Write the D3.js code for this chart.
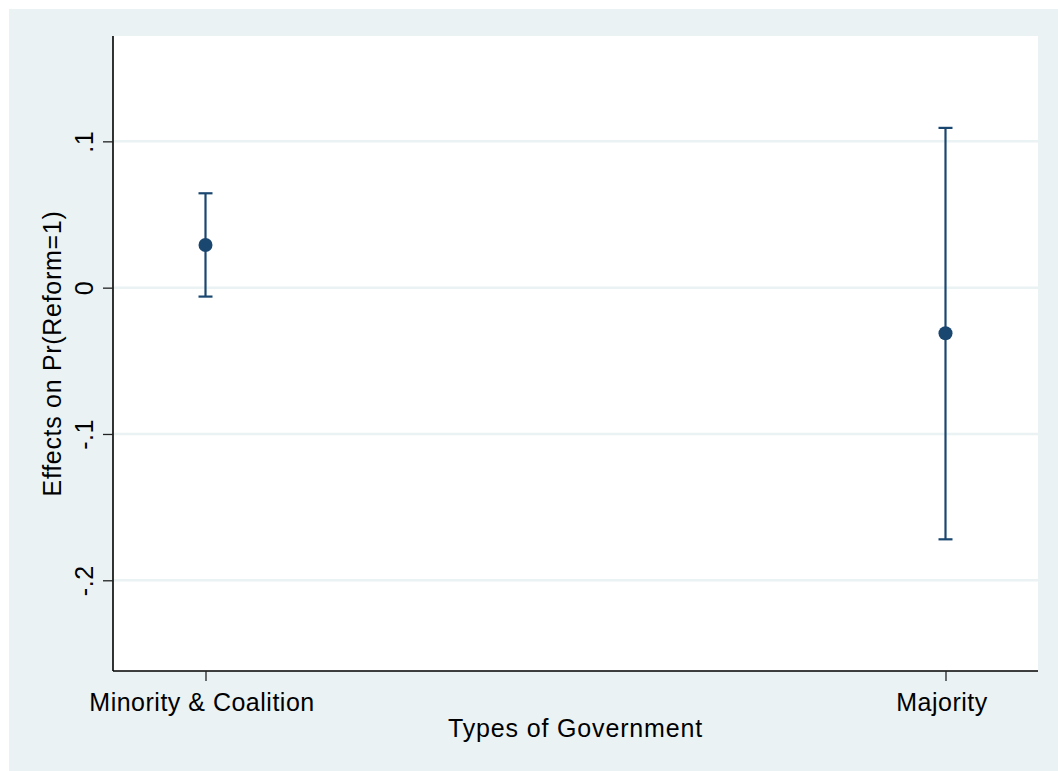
<!DOCTYPE html>
<html>
<head>
<meta charset="utf-8">
<script src="https://cdn.jsdelivr.net/npm/d3@7"></script>
<style>
  html, body { margin: 0; padding: 0; background: #ffffff; }
  svg { display: block; }
  text { font-family: "Liberation Sans", Arial, Helvetica, sans-serif; fill: #000; }
</style>
</head>
<body>
<svg id="chart" width="1058" height="771"></svg>
<script>
// ---- data ----
const categories = ["Minority & Coalition", "Majority"];
const categoryPos = [1, 2];
const estimates = [0.0292, -0.0312];
const ciLower = [-0.0061, -0.1720];
const ciUpper = [0.0645, 0.1092];
const yTicks = [0.1, 0, -0.1, -0.2];
const yTickLabels = [".1", "0", "-.1", "-.2"];
const xTitle = "Types of Government";
const yTitle = "Effects on Pr(Reform=1)";

// ---- layout ----
const W = 1058, H = 771;
const plot = { left: 113, right: 1038, top: 36, bottom: 671 };
const navy = "#1a476f";
const bgCol = "#eaf2f3";

const svg = d3.select("#chart");

// outer background
svg.append("rect").attr("x", 9).attr("y", 9).attr("width", W - 9).attr("height", H - 9).attr("fill", bgCol);
// plot region
svg.append("rect").attr("x", plot.left).attr("y", plot.top)
  .attr("width", plot.right - plot.left).attr("height", plot.bottom - plot.top).attr("fill", "#ffffff");

const x = d3.scaleLinear().domain([0.875, 2.125]).range([plot.left, plot.right]);
const y = d3.scaleLinear().domain([-0.262, 0.172]).range([plot.bottom, plot.top]);

// gridlines
svg.append("g").selectAll("line").data(yTicks).join("line")
  .attr("x1", plot.left).attr("x2", plot.right)
  .attr("y1", d => y(d)).attr("y2", d => y(d))
  .attr("stroke", bgCol).attr("stroke-width", 2.5);

// y axis
const yAxis = d3.axisLeft(y).tickValues(yTicks)
  .tickFormat((d, i) => yTickLabels[i]).tickSize(10).tickSizeOuter(0);
const gy = svg.append("g").attr("transform", `translate(${plot.left},0)`).call(yAxis);
gy.select(".domain").attr("stroke", "#000").attr("stroke-width", 1.6)
  .attr("d", `M0,${plot.top}V${plot.bottom}`);
gy.selectAll(".tick line").attr("stroke", "#222").attr("stroke-width", 1.3);
gy.selectAll(".tick text")
  .attr("x", null).attr("dy", null)
  .attr("transform", `translate(${93 - plot.left},0) rotate(-90)`)
  .attr("text-anchor", "middle")
  .style("font-size", "25px").style("letter-spacing", "0.5px")
  .style("font-family", '"Liberation Sans", Arial, sans-serif').attr("fill", "#000");

// x axis
const xAxis = d3.axisBottom(x).tickValues(categoryPos)
  .tickFormat((d, i) => categories[i]).tickSize(10).tickSizeOuter(0);
const gx = svg.append("g").attr("transform", `translate(0,${plot.bottom})`).call(xAxis);
gx.select(".domain").attr("stroke", "#000").attr("stroke-width", 1.6)
  .attr("d", `M${plot.left},0H${plot.right}`);
gx.selectAll(".tick line").attr("stroke", "#222").attr("stroke-width", 1.3);
gx.selectAll(".tick text")
  .attr("y", 711 - plot.bottom).attr("dy", null).attr("dx", -4)
  .style("font-size", "25px").style("letter-spacing", "0.5px")
  .style("font-family", '"Liberation Sans", Arial, sans-serif').attr("fill", "#000");

// axis titles
svg.append("text").attr("x", (plot.left + plot.right) / 2).attr("y", 737)
  .attr("text-anchor", "middle").style("font-size", "25px").style("letter-spacing", "0.85px")
  .text(xTitle);
svg.append("text")
  .attr("transform", `translate(61,${(plot.top + plot.bottom) / 2}) rotate(-90)`)
  .attr("text-anchor", "middle").style("font-size", "25px").style("letter-spacing", "0.7px")
  .text(yTitle);

// error bars
const idx = d3.range(categories.length);
const capHalf = 7;
const g = svg.append("g");
g.selectAll("line.ci").data(idx).join("line").attr("class", "ci")
  .attr("x1", i => x(categoryPos[i])).attr("x2", i => x(categoryPos[i]))
  .attr("y1", i => y(ciLower[i])).attr("y2", i => y(ciUpper[i]))
  .attr("stroke", navy).attr("stroke-width", 2.2);
g.selectAll("line.capTop").data(idx).join("line").attr("class", "capTop")
  .attr("x1", i => x(categoryPos[i]) - capHalf).attr("x2", i => x(categoryPos[i]) + capHalf)
  .attr("y1", i => y(ciUpper[i])).attr("y2", i => y(ciUpper[i]))
  .attr("stroke", navy).attr("stroke-width", 2.2);
g.selectAll("line.capBot").data(idx).join("line").attr("class", "capBot")
  .attr("x1", i => x(categoryPos[i]) - capHalf).attr("x2", i => x(categoryPos[i]) + capHalf)
  .attr("y1", i => y(ciLower[i])).attr("y2", i => y(ciLower[i]))
  .attr("stroke", navy).attr("stroke-width", 2.2);
g.selectAll("circle").data(idx).join("circle")
  .attr("cx", i => x(categoryPos[i])).attr("cy", i => y(estimates[i]))
  .attr("r", 7).attr("fill", navy);
</script>
</body>
</html>
